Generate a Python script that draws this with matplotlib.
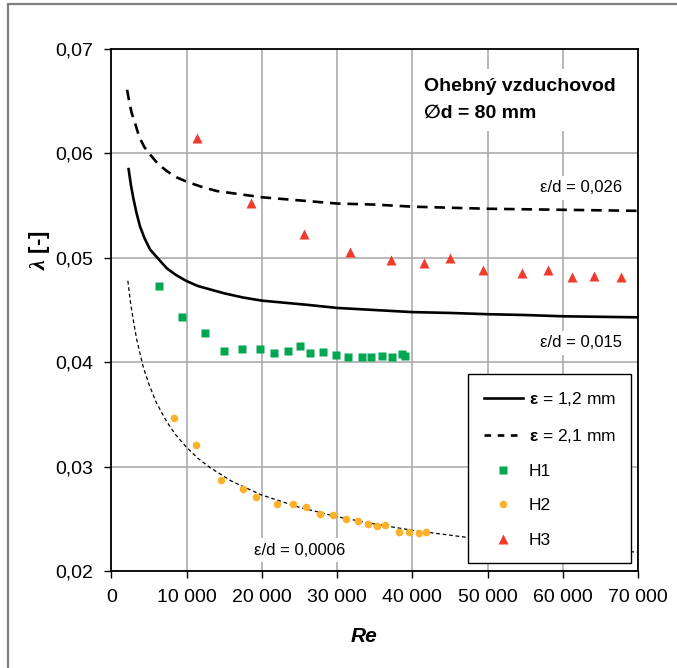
import matplotlib
matplotlib.use("Agg")
import matplotlib.pyplot as plt
from matplotlib.ticker import FuncFormatter
from matplotlib.lines import Line2D
from matplotlib.patches import Rectangle

plt.rcParams['font.family'] = ['Liberation Sans', 'DejaVu Sans']
plt.rcParams['mathtext.fontset'] = 'custom'
plt.rcParams['mathtext.rm'] = 'Liberation Sans'
plt.rcParams['mathtext.bf'] = 'Liberation Sans:bold'
plt.rcParams['mathtext.it'] = 'Liberation Serif:italic:bold'

# Friction factor curve, roughness eps = 1.2 mm (eps/d = 0.015)
re_eps12 = [2300, 2600, 2930, 3350, 3820, 4400, 5150, 6250, 7370, 8500, 9930,
            11500, 13000, 15000, 17500, 20000, 23000, 26000, 30000, 35000,
            40000, 45000, 50000, 55000, 60000, 65000, 70000]
lam_eps12 = [0.0585, 0.0570, 0.0557, 0.0543, 0.0530, 0.0519, 0.0508, 0.0499,
             0.0490, 0.0484, 0.0478, 0.0473, 0.0470, 0.0466, 0.0462, 0.0459,
             0.0457, 0.0455, 0.0452, 0.0450, 0.0448, 0.04472, 0.0446, 0.04452,
             0.0444, 0.04435, 0.0443]

# roughness eps = 2.1 mm (eps/d = 0.026)
re_eps21 = [2100, 2400, 2700, 3160, 3700, 4400, 5150, 6200, 7400, 8700, 10000,
            12000, 14000, 17000, 20000, 25000, 30000, 35000, 40000, 50000,
            60000, 70000]
lam_eps21 = [0.0661, 0.0649, 0.0639, 0.0629, 0.0616, 0.0606, 0.0599, 0.0590,
             0.0583, 0.0577, 0.0573, 0.0568, 0.0564, 0.0561, 0.0558, 0.0555,
             0.0552, 0.0551, 0.0549, 0.0547, 0.0546, 0.0545]

# smooth duct, eps/d = 0.0006
re_smooth = [2200, 2500, 2900, 3400, 4260, 5000, 6000, 7370, 8500, 9930, 11500,
             13130, 16000, 19900, 25000, 30000, 35000, 40000, 47500, 55000,
             62000, 70000]
lam_smooth = [0.0478, 0.0460, 0.0441, 0.0421, 0.0395, 0.0379, 0.0361, 0.0343,
              0.0331, 0.0319, 0.0308, 0.0299, 0.0286, 0.0273, 0.0261, 0.0252,
              0.0245, 0.0239, 0.0232, 0.0227, 0.0222, 0.0218]

# Measured series
re_h1 = [6340, 9400, 12460, 14990, 17380, 19770, 21640, 23500, 25090, 26420,
         28150, 29880, 31440, 33340, 34540, 36000, 37330, 38660, 39020]
lam_h1 = [0.0473, 0.04435, 0.0428, 0.0411, 0.0413, 0.0413, 0.0409, 0.0411,
          0.04157, 0.0409, 0.0410, 0.0407, 0.04052, 0.04052, 0.04052, 0.04062,
          0.04052, 0.04075, 0.04062]

re_h2 = [8290, 11220, 14630, 17470, 19280, 21990, 24160, 25930, 27710, 29440,
         31210, 32770, 34100, 35370, 36400, 38220, 39500, 40830, 41890]
lam_h2 = [0.03468, 0.03207, 0.02872, 0.02786, 0.02706, 0.02645, 0.02639,
          0.02613, 0.02546, 0.02537, 0.02495, 0.02479, 0.02447, 0.02434,
          0.02438, 0.02374, 0.02374, 0.02364, 0.02371]

re_h3 = [11350, 18580, 25630, 31700, 37150, 41540, 45040, 49430, 54520, 57980,
         61220, 64150, 67780]
lam_h3 = [0.06149, 0.05527, 0.05224, 0.05052, 0.04975, 0.04946, 0.04994,
          0.04882, 0.04854, 0.04880, 0.04818, 0.04825, 0.04815]

x_ticks = [0, 10000, 20000, 30000, 40000, 50000, 60000, 70000]
y_ticks = [0.02, 0.03, 0.04, 0.05, 0.06, 0.07]

c_h1 = '#00a651'
c_h2 = '#fbb22a'
c_h3 = '#ee3b2b'

fig = plt.figure(figsize=(6.77, 6.68), dpi=100)
ax = fig.add_axes([0.1644, 0.1452, 0.778, 0.7814])

# outer frame of the figure
fig.patches.append(Rectangle((8 / 677, -0.05), 1.2, 1 - 4 / 668 + 0.05,
                             transform=fig.transFigure, fill=False,
                             edgecolor='#7f7f7f', linewidth=1.6))

ax.plot(re_eps12, lam_eps12, color='black', lw=1.9, zorder=3)
ax.plot(re_eps21, lam_eps21, color='black', lw=1.9, dashes=(4, 2.6), zorder=3)
ax.plot(re_smooth, lam_smooth, color='black', lw=0.9, dashes=(3, 2.2), zorder=3)

ax.plot(re_h1, lam_h1, 's', color=c_h1, ms=6, mec='none', zorder=4)
ax.plot(re_h2, lam_h2, 'o', color=c_h2, ms=5.5, mec='none', zorder=4)
ax.plot(re_h3, lam_h3, '^', color=c_h3, ms=7, mec='none', zorder=4)

ax.set_xlim(0, 70000)
ax.set_ylim(0.02, 0.07)
ax.set_xticks(x_ticks)
ax.set_yticks(y_ticks)
ax.xaxis.set_major_formatter(FuncFormatter(lambda v, p: f"{int(v):,}".replace(',', ' ')))
ax.yaxis.set_major_formatter(FuncFormatter(lambda v, p: f"{v:.2f}".replace('.', ',')))
ax.tick_params(direction='out', length=5, width=1, labelsize=14, pad=8, color='black')
ax.grid(True, color='#a6a6a6', lw=1.1, zorder=0)
ax.set_axisbelow(True)
for s in ax.spines.values():
    s.set_linewidth(1.3)
    s.set_color('black')

ax.set_xlabel('Re', fontsize=15, fontweight='bold', fontstyle='italic')
ax.xaxis.set_label_coords(0.48, -0.108)
ax.set_ylabel(r'$λ$ [-]', fontsize=16, fontweight='bold')
ax.yaxis.set_label_coords(-0.112, 0.615)

box = dict(facecolor='white', edgecolor='none', pad=3)
ax.text(0.594, 0.945, 'Ohebný vzduchovod\n∅d = 80 mm', transform=ax.transAxes,
        fontsize=14, fontweight='bold', va='top', ha='left', linespacing=1.8,
        bbox=dict(facecolor='white', edgecolor='none', pad=6), zorder=5)
ax.text(0.970, 0.734, 'ε/d = 0,026', transform=ax.transAxes, fontsize=12,
        ha='right', va='center', bbox=box, zorder=5)
ax.text(0.970, 0.437, 'ε/d = 0,015', transform=ax.transAxes, fontsize=12,
        ha='right', va='center', bbox=box, zorder=5)
ax.text(0.358, 0.040, 'ε/d = 0,0006', transform=ax.transAxes, fontsize=12,
        ha='center', va='center', bbox=box, zorder=5)

handles = [
    Line2D([], [], color='black', lw=1.9),
    Line2D([], [], color='black', lw=1.9, dashes=(2.5, 2.5)),
    Line2D([], [], ls='none', marker='s', color=c_h1, ms=6, mec='none'),
    Line2D([], [], ls='none', marker='o', color=c_h2, ms=5.5, mec='none'),
    Line2D([], [], ls='none', marker='^', color=c_h3, ms=7, mec='none'),
]
labels = [r'$\mathbf{ε}$ = 1,2 mm', r'$\mathbf{ε}$ = 2,1 mm', 'H1', 'H2', 'H3']
leg = ax.legend(handles, labels, loc='upper left', bbox_to_anchor=(0.677, 0.377),
                borderaxespad=0, fancybox=False, edgecolor='black', framealpha=1,
                fontsize=12.5, handlelength=2.3, handletextpad=0.3,
                labelspacing=1.1, borderpad=0.9)
leg.get_frame().set_linewidth(1.0)
leg.set_zorder(6)

fig.savefig('out.png', dpi=100)
